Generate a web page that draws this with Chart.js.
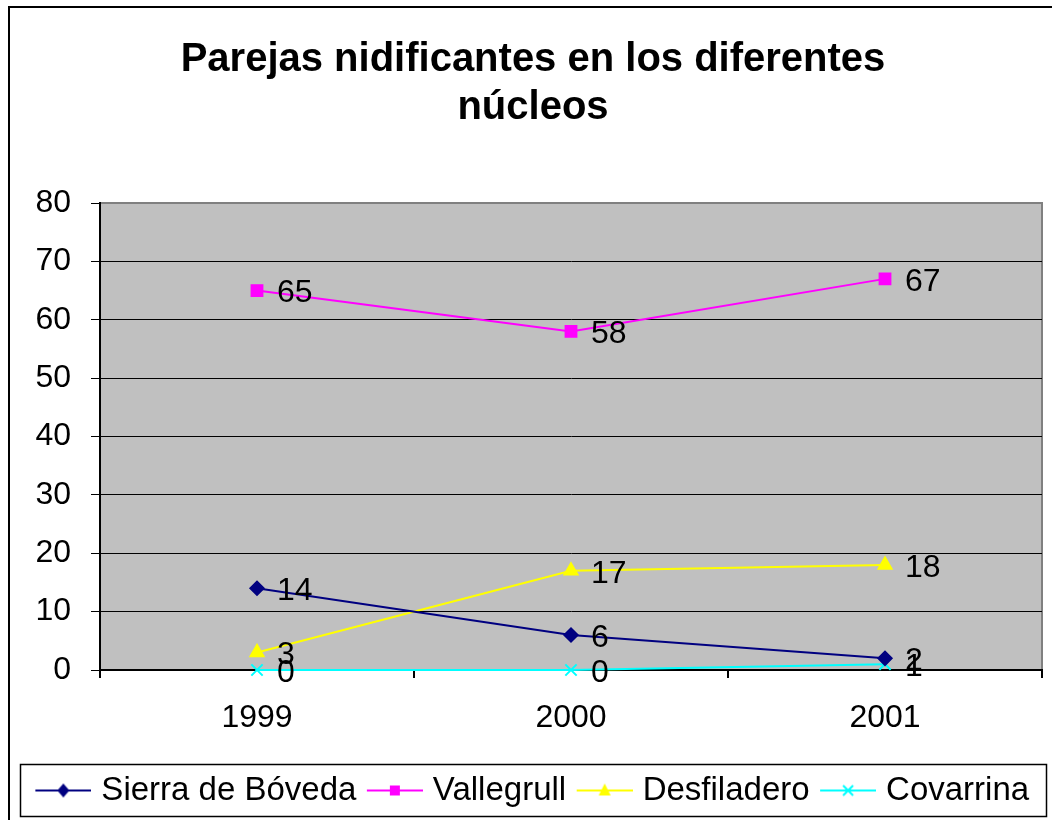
<!DOCTYPE html>
<html>
<head>
<meta charset="utf-8">
<script src="https://cdn.jsdelivr.net/npm/chart.js@4.4.1/dist/chart.umd.min.js"></script>
<style>
html, body { margin: 0; padding: 0; background: #fff; }
#wrap { position: relative; width: 1052px; height: 820px; }
</style>
</head>
<body>
<div id="wrap"><canvas id="chart"></canvas></div>
<script>
// datos
const years = ['1999', '2000', '2001'];
const sierraDeBoveda = [14, 6, 2];
const vallegrull = [65, 58, 67];
const desfiladero = [3, 17, 18];
const covarrina = [0, 0, 1];
const seriesNames = ['Sierra de Bóveda', 'Vallegrull', 'Desfiladero', 'Covarrina'];

const FONT = '"Liberation Sans", Arial, sans-serif';
Chart.defaults.font.family = FONT;
Chart.defaults.color = '#000';

// icono de leyenda: línea + marcador (desplazado un poco a la derecha)
function legendIcon(color, marker) {
    const c = document.createElement('canvas');
    c.width = 61;
    c.height = 20;
    const g = c.getContext('2d');
    g.strokeStyle = color;
    g.fillStyle = color;
    g.lineWidth = 2;
    g.beginPath();
    g.moveTo(5, 10);
    g.lineTo(61, 10);
    g.stroke();
    const x = 33, y = 10;
    g.beginPath();
    if (marker === 'diamond') {
        g.moveTo(x, y - 7); g.lineTo(x + 6, y); g.lineTo(x, y + 7); g.lineTo(x - 6, y);
        g.closePath(); g.fill();
    } else if (marker === 'square') {
        g.rect(x - 5, y - 5, 10, 10); g.fill();
    } else if (marker === 'triangle') {
        g.moveTo(x, y - 7); g.lineTo(x + 6, y + 5); g.lineTo(x - 6, y + 5);
        g.closePath(); g.fill();
    } else {
        g.moveTo(x - 5, y - 5); g.lineTo(x + 5, y + 5);
        g.moveTo(x + 5, y - 5); g.lineTo(x - 5, y + 5);
        g.stroke();
    }
    return c;
}

const icons = [
    legendIcon('#000080', 'diamond'),
    legendIcon('#ff00ff', 'square'),
    legendIcon('#ffff00', 'triangle'),
    legendIcon('#00ffff', 'cross')
];

// fondo gris del área de trazado
const plotBackground = {
    id: 'plotBackground',
    beforeDraw(chart) {
        const { ctx, chartArea: a } = chart;
        ctx.save();
        ctx.fillStyle = '#c0c0c0';
        ctx.fillRect(a.left, a.top, a.right - a.left, a.bottom - a.top);
        ctx.strokeStyle = '#808080';
        ctx.lineWidth = 2;
        ctx.strokeRect(a.left, a.top, a.right - a.left, a.bottom - a.top);
        ctx.restore();
    }
};

// etiquetas de valor junto a cada punto
const valueLabels = {
    id: 'valueLabels',
    afterDatasetsDraw(chart) {
        const ctx = chart.ctx;
        ctx.save();
        ctx.font = '32px ' + FONT;
        ctx.fillStyle = '#000';
        ctx.textAlign = 'left';
        ctx.textBaseline = 'middle';
        chart.data.datasets.forEach((ds, i) => {
            chart.getDatasetMeta(i).data.forEach((pt, j) => {
                ctx.fillText(String(ds.data[j]), pt.x + 20, pt.y + 3);
            });
        });
        ctx.restore();
    }
};

// marco exterior y marco de la leyenda
const frames = {
    id: 'frames',
    afterDraw(chart) {
        const ctx = chart.ctx;
        const lg = chart.legend;
        ctx.save();
        ctx.strokeStyle = '#000';
        ctx.lineWidth = 2;
        ctx.strokeRect(9, 7, 1100, 900);
        ctx.lineWidth = 1.5;
        ctx.strokeRect(lg.left + 0.5, lg.bottom - 52.5, lg.width, 52);
        ctx.restore();
    }
};

const lineDataset = (label, data, color, pointStyle, radius, pointBorder) => ({
    label: label,
    data: data,
    borderColor: color,
    backgroundColor: color,
    borderWidth: 2,
    pointStyle: pointStyle,
    pointRadius: radius,
    pointHoverRadius: radius,
    pointBorderWidth: pointBorder,
    pointBackgroundColor: color,
    pointBorderColor: color,
    tension: 0,
    clip: false
});

new Chart(document.getElementById('chart'), {
    type: 'line',
    data: {
        labels: years,
        datasets: [
            lineDataset(seriesNames[0], sierraDeBoveda, '#000080', 'rectRot', 7, 1.5),
            lineDataset(seriesNames[1], vallegrull, '#ff00ff', 'rect', 8, 1.5),
            lineDataset(seriesNames[2], desfiladero, '#ffff00', 'triangle', 8, 1.5),
            lineDataset(seriesNames[3], covarrina, '#00ffff', 'crossRot', 8, 2)
        ]
    },
    options: {
        responsive: true,
        maintainAspectRatio: false,
        animation: false,
        layout: {
            padding: { top: 0, left: 20, right: 6, bottom: 3 }
        },
        scales: {
            x: {
                offset: true,
                ticks: {
                    color: '#000',
                    font: { size: 32 },
                    padding: 21
                },
                grid: {
                    offset: true,
                    drawOnChartArea: false,
                    tickLength: 8,
                    color: '#000',
                    lineWidth: 2
                },
                border: { color: '#000', width: 2 },
                afterFit(scale) { scale.height = 92; }
            },
            y: {
                min: 0,
                max: 80,
                ticks: {
                    stepSize: 10,
                    color: '#000',
                    font: { size: 32 },
                    padding: 20
                },
                grid: {
                    color: ctx => ctx.tick && ctx.tick.value === 80 ? '#808080' : '#000',
                    tickColor: '#000',
                    lineWidth: 1,
                    tickLength: 9
                },
                border: { color: '#000', width: 2 },
                afterFit(scale) { scale.width = 80; }
            }
        },
        plugins: {
            title: {
                display: true,
                text: ['Parejas nidificantes en los diferentes', 'núcleos'],
                color: '#000',
                font: { size: 40, weight: 'bold', lineHeight: 1.2 },
                padding: { top: 36, bottom: 71 }
            },
            legend: {
                display: true,
                position: 'bottom',
                labels: {
                    usePointStyle: true,
                    pointStyleWidth: 48,
                    color: '#000',
                    font: { size: 33 },
                    padding: 12,
                    generateLabels(chart) {
                        const items = Chart.defaults.plugins.legend.labels.generateLabels(chart);
                        items.forEach((it, i) => { it.pointStyle = icons[i]; });
                        return items;
                    }
                }
            },
            tooltip: { enabled: false }
        }
    },
    plugins: [plotBackground, valueLabels, frames]
});
</script>
</body>
</html>
